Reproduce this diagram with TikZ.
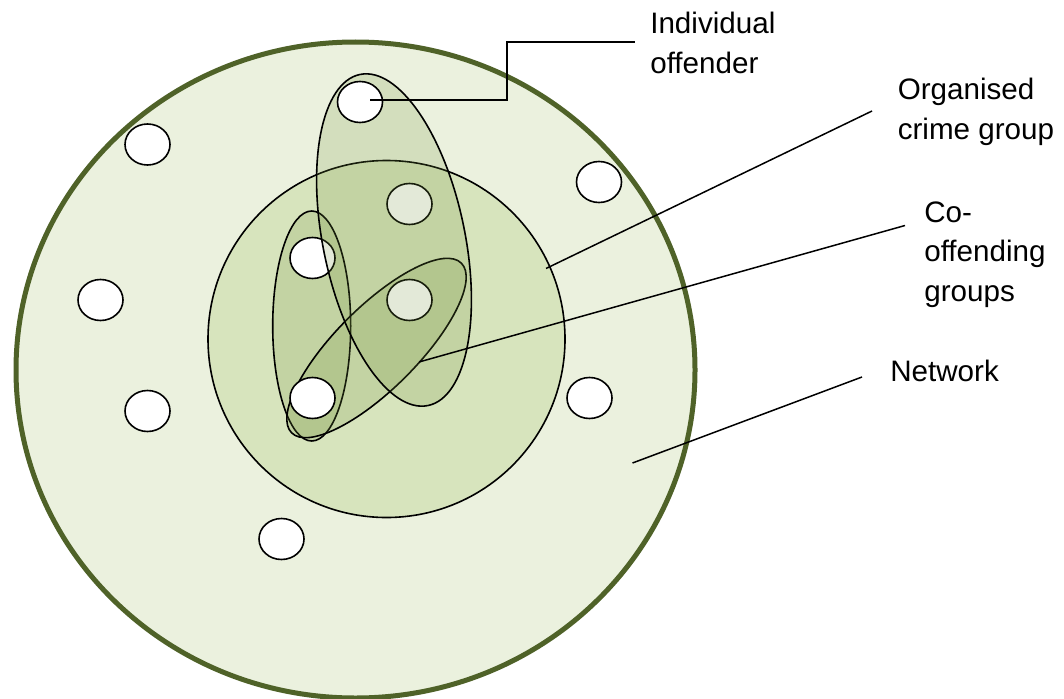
\documentclass[tikz,border=0pt]{standalone}
\usepackage{fontspec}
\setmainfont{Liberation Sans}
\usepackage{tikz}
\usetikzlibrary{shapes.geometric}
\definecolor{netfill}{HTML}{EBF1DE}
\definecolor{netline}{HTML}{4F6228}
\definecolor{ocgfill}{HTML}{D7E4BD}
\definecolor{grpfill}{HTML}{76923C}

\begin{document}
\begin{tikzpicture}[x=1pt, y=-1pt, line width=1.6pt,
  offender/.style={ellipse, draw, fill=white, inner sep=0pt,
    minimum width=45, minimum height=41},
  grp/.style={ellipse, draw, fill=grpfill, fill opacity=0.2, inner sep=0pt},
  lead/.style={draw, line width=1.5pt},
  lbl/.style={anchor=north west, inner sep=0pt, align=left,
    font=\fontsize{29.6}{39.5}\selectfont}]
  \useasboundingbox (0,0) rectangle (1064,698);
  % network and organised crime group
  \node[ellipse, draw=netline, fill=netfill, line width=5pt, inner sep=0pt,
        minimum width=679, minimum height=656] (net) at (355.5,370) {};
  \node[circle, draw, fill=ocgfill, inner sep=0pt, minimum size=357] (ocg) at (386.5,339) {};
  % co-offending groups
  \node[grp, minimum width=78, minimum height=230] (cog1) at (311.7,326) {};
  \node[grp, minimum width=240, minimum height=82, rotate=45] (cog2) at (376.5,348) {};
  \foreach \i/\x/\y in {2/147.5/144.5, 3/599/182, 4/100.5/300, 5/147.5/411,
      6/589.5/398, 7/281.5/539, 8/409.5/204, 9/312.5/258, 10/409.5/300, 11/312.5/398}
    \node[offender] (o\i) at (\x,\y) {};
  \node[grp, minimum width=142, minimum height=338, rotate=11.6] (cog3) at (394,240) {};
  \node[offender] (o1) at (360,102) {};
  % labels
  \node[lbl] (lblind) at (649.5,11.5) {Individual\\offender};
  \node[lbl] (lblocg) at (897,77.5) {Organised\\crime group};
  \node[lbl] (lblcog) at (923.5,201) {Co-\\offending\\groups};
  \node[lbl] (lblnet) at (889.5,359.5) {Network};
  \coordinate (ind-a) at (370,100);
  \coordinate (ind-b) at (635,42);
  \coordinate (ocg-a) at (546,268.5);
  \coordinate (ocg-b) at (872,111);
  \coordinate (cog-a) at (419,362);
  \coordinate (cog-b) at (905,225.5);
  \coordinate (net-a) at (632.5,463);
  \coordinate (net-b) at (862,377);
  \draw[lead] (ind-a) -- ++(137,0) |- (ind-b);
  \draw[lead] (ocg-a) -- (ocg-b);
  \draw[lead] (cog-a) -- (cog-b);
  \draw[lead] (net-a) -- (net-b);
\end{tikzpicture}
\end{document}
